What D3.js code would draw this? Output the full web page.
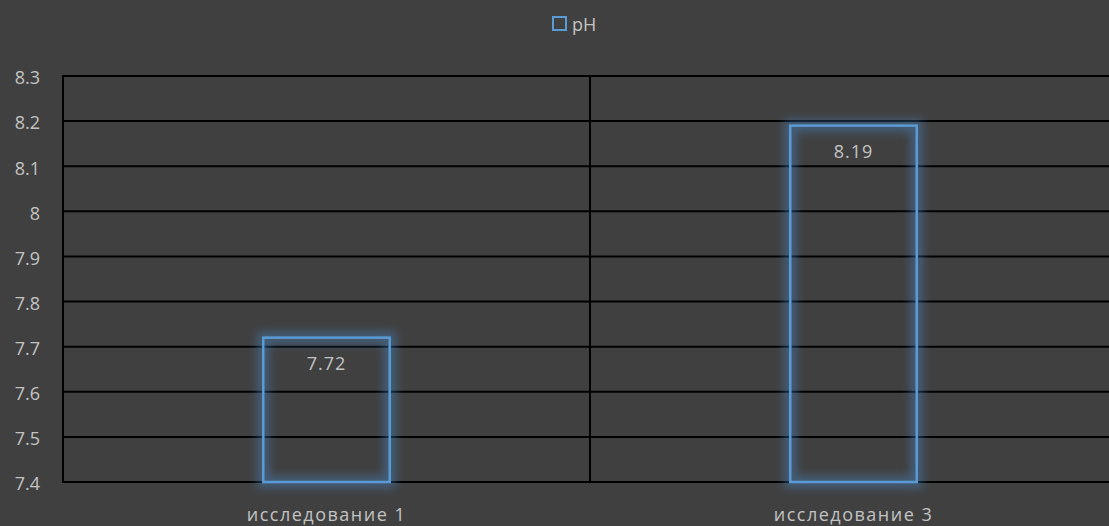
<!DOCTYPE html>
<html><head><meta charset="utf-8">
<script src="https://cdn.jsdelivr.net/npm/d3@7"></script>
<style>
html,body{margin:0;padding:0;background:#404040;}
svg{display:block;}
text{font-family:"Open Sans","Noto Sans",sans-serif;fill:#c3c3c3;}
</style></head>
<body>
<svg id="chart" width="1109" height="526"></svg>
<script>
const categories = ["исследование 1", "исследование 3"];
const seriesName = "pH";
const values = [7.72, 8.19];
const yTicks = [7.4, 7.5, 7.6, 7.7, 7.8, 7.9, 8, 8.1, 8.2, 8.3];

(function(){
const W = 1109, H = 526;
const svg = d3.select("#chart");
svg.append("rect").attr("width", W).attr("height", H).attr("fill", "#404040");

const defs = svg.append("defs");
const f = defs.append("filter").attr("id","glow").attr("x","-30%").attr("y","-30%").attr("width","160%").attr("height","160%");
f.append("feGaussianBlur").attr("stdDeviation", 5);

const pL = 63, pR = 1117, pT = 76, pB = 482;
const x = d3.scaleBand().domain(categories).range([pL, pR]).paddingInner(0).paddingOuter(0);
const y = d3.scaleLinear().domain([7.4, 8.3]).range([pB, pT]);

svg.append("g").selectAll("line").data(yTicks).join("line")
  .attr("x1", pL).attr("x2", W).attr("y1", d => y(d)).attr("y2", d => y(d))
  .attr("stroke", "#000").attr("stroke-width", 2);

svg.append("g").selectAll("line").data(categories).join("line")
  .attr("x1", d => x(d)).attr("x2", d => x(d)).attr("y1", pT - 1).attr("y2", pB + 1)
  .attr("stroke", "#000").attr("stroke-width", 2);

svg.append("g").selectAll("text").data(yTicks).join("text")
  .attr("x", 40).attr("y", d => y(d) + 2).attr("dy", "0.35em")
  .attr("text-anchor", "end").attr("font-size", 18)
  .text(d => d3.format("")(d));

svg.append("g").selectAll("text").data(categories).join("text")
  .attr("x", d => x(d) + x.bandwidth() / 2).attr("y", 515).attr("dy", "0.35em")
  .attr("text-anchor", "middle").attr("font-size", 18).attr("letter-spacing", 1.5)
  .text(d => d);

const bw = x.bandwidth() * 0.24;
const bars = svg.append("g");
const data = categories.map((c, i) => ({c, v: values[i]}));
bars.selectAll("rect.glow").data(data).join("rect").attr("class","glow")
  .attr("x", d => x(d.c) + (x.bandwidth() - bw) / 2).attr("y", d => y(d.v))
  .attr("width", bw).attr("height", d => y(7.4) - y(d.v))
  .attr("fill", "none").attr("stroke", "#4a90d9").attr("stroke-width", 12).attr("opacity", 0.4)
  .attr("filter", "url(#glow)");
bars.selectAll("rect.bar").data(data).join("rect").attr("class","bar")
  .attr("x", d => x(d.c) + (x.bandwidth() - bw) / 2).attr("y", d => y(d.v))
  .attr("width", bw).attr("height", d => y(7.4) - y(d.v))
  .attr("fill", "none").attr("stroke", "#5b9bd5").attr("stroke-width", 2.5);

svg.append("g").selectAll("text").data(data).join("text")
  .attr("x", d => x(d.c) + x.bandwidth() / 2).attr("y", d => y(d.v) + 26).attr("dy", "0.35em")
  .attr("text-anchor", "middle").attr("font-size", 18).attr("letter-spacing", 1)
  .text(d => d.v);

const lg = svg.append("g");
lg.append("rect").attr("x", 553).attr("y", 17).attr("width", 13).attr("height", 13)
  .attr("fill", "none").attr("stroke", "#5b9bd5").attr("stroke-width", 2);
lg.append("text").attr("x", 572).attr("y", 25).attr("dy", "0.35em").attr("font-size", 18).text(seriesName);
})();
</script>
</body></html>
